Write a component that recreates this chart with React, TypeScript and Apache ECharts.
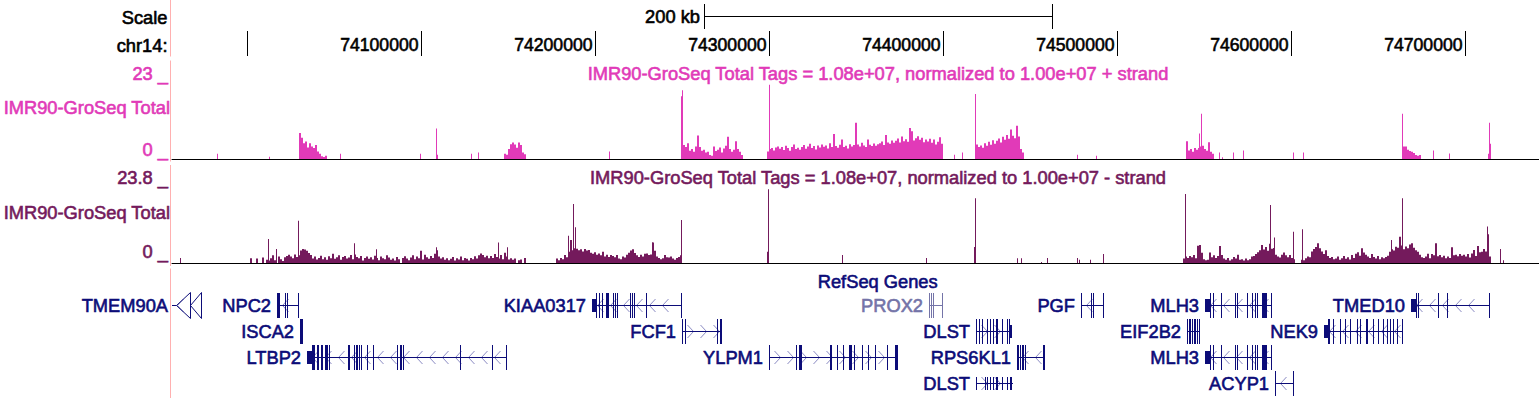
import React, { useEffect, useRef } from "react";
import * as echarts from "echarts";

// ---------------- data (genomic positions in kb on chr14) ----------------
const X_MIN = 73956.55;
const X_MAX = 74742.5;
const BIN_KB = 1.15; // fixedStep wiggle bin

const chromLabel = "chr14:";
const rulerTicks = [74000, 74100, 74200, 74300, 74400, 74500, 74600, 74700];
const scaleBarStart = 74262.85;
const scaleBarKb = 200;
const scaleBarLabel = "200 kb";

const trackShortLabel = "IMR90-GroSeq Total";
const plusTitle = "IMR90-GroSeq Total Tags = 1.08e+07, normalized to 1.00e+07 + strand";
const minusTitle = "IMR90-GroSeq Total Tags = 1.08e+07, normalized to 1.00e+07 - strand";
const plusMax = 23;
const minusMax = 23.8;
const plusMaxLabel = "23 _";
const minusMaxLabel = "23.8 _";
const zeroLabel = "0 _";
const genesTitle = "RefSeq Genes";

// isolated 1-px peaks: [kb, value]
const plusPeaks: [number, number][] = [
  [73982.4, 1.6], [74012.2, 0.7], [74053.2, 1.6], [74099.2, 1.6], [74108.5, 9.2], [74109.1, 1.3],
  [74128.6, 1.6], [74132.3, 2.0], [74207.7, 2.3], [74249.4, 19.0], [74250.0, 20.8], [74300.0, 22.5],
  [74406.2, 1.3], [74410.6, 2.0], [74418.1, 19.7], [74477.1, 1.3], [74488.0, 1.0], [74547.3, 7.7],
  [74548.4, 13.7], [74558.8, 2.0], [74560.3, 0.5], [74566.8, 2.0], [74572.4, 2.6], [74601.0, 2.0],
  [74606.7, 2.0], [74663.8, 13.7], [74681.5, 2.6], [74691.0, 1.7], [74713.3, 1.6], [74714.0, 11.0],
  [74714.6, 4.6],
];

// dense regions: [start kb, values every BIN_KB]
const plusBlocks: [number, number[]][] = [
  [74029.6, [7.9, 6.4, 4.8, 5.3, 3.5, 4.8, 3.8, 3.3, 4.2, 2.3, 1.6, 0.8, 0.6, 1.0]],
  [74147.5, [1.6, 1.3, 3.0, 4.5, 5.0, 4.4, 3.4, 5.0, 4.2, 2.0, 1.4]],
  [74250.4, [4.2, 3.6, 4.8, 2.5, 3.0, 2.2, 3.8, 7.1, 3.6, 2.5, 2.8, 2.0, 2.2, 1.2, 1.0, 3.8, 2.4, 2.8, 3.5, 2.0,
    3.2, 4.0, 6.7, 3.0, 2.2, 2.8, 5.4, 3.0, 2.2, 1.2]],
  [74298.7, [2.3, 3.0, 3.3, 2.6, 3.5,
    3.8, 3.1, 3.6, 2.7, 4.0, 3.3, 2.5, 3.6, 4.4, 3.0, 3.4, 2.8,
    3.6, 4.2, 3.1, 3.8, 4.6, 3.3, 3.9, 2.9, 4.1, 3.5, 4.4, 3.7,
    4.1, 3.2, 4.8, 3.6, 7.6,
    3.9, 3.4, 4.3, 5.9, 3.6, 4.0, 3.2, 4.5, 3.8, 4.2,
    11.0, 4.4, 3.8, 4.9, 4.1, 3.6, 5.9, 4.3, 3.9, 4.7, 4.0, 4.5,
    4.8, 5.3, 4.2, 7.3, 5.0, 4.6, 5.6, 4.9,
    5.5, 6.2, 5.0, 6.8, 5.4, 6.0, 5.2, 9.4,
    8.4, 5.6, 6.3, 6.9, 5.8, 6.4, 5.1, 5.9, 5.3, 6.1,
    4.9, 5.9, 4.4, 5.2, 6.6, 4.6]],
  [74418.85, [4.4, 3.6, 4.1, 3.4, 4.8, 4.0, 5.2, 4.3, 5.7, 4.6, 5.5, 6.2, 5.0, 6.7, 5.8, 7.3, 6.1, 8.9, 7.0, 6.3,
    10.1, 6.8, 3.0, 2.0]],
  [74539.6, [5.4, 2.6, 3.0, 2.2, 3.3, 2.8, 3.3, 3.8, 4.0, 3.0, 2.5, 5.1, 2.2, 1.6]],
  [74664.4, [3.8, 3.8, 2.8, 2.4, 2.2, 1.8, 1.2, 1.0, 1.2]],
];

const minusPeaks: [number, number][] = [
  [73961.2, 1.6], [74011.9, 7.5], [74016.2, 4.4], [74028.8, 13.2], [74061.4, 6.2], [74073.7, 4.3],
  [74108.2, 4.9], [74143.8, 6.4], [74149.0, 4.9], [74184.4, 8.5], [74187.3, 18.5], [74188.5, 11.2],
  [74232.7, 6.4], [74249.4, 13.5], [74298.7, 3.5], [74299.4, 23.1], [74341.6, 2.5], [74389.9, 1.6],
  [74417.9, 5.0], [74418.3, 20.3], [74442.6, 1.5], [74444.7, 1.5], [74456.1, 0.3], [74459.9, 1.6],
  [74476.8, 1.6], [74477.9, 1.0], [74484.6, 1.0], [74492.0, 2.8], [74539.0, 21.6], [74588.1, 18.2],
  [74590.2, 8.0], [74601.0, 9.8], [74606.1, 10.6], [74657.3, 7.2], [74664.0, 20.3], [74712.5, 11.4],
  [74713.4, 9.0], [74719.8, 4.4], [74721.7, 0.9],
];

const minusBlocks: [number, number[]][] = [
  [74001.4, [
    1.5, 0, 0, 1.4, 0, 0, 1.7, 0, 1.0, 0.8,
    1.5, 2.4, 0.9, 0, 2.0, 1.2, 0.6, 1.8, 2.2, 2.6,
    2.0, 1.5, 2.7, 1.9, 2.4, 3.9, 4.4, 4.2, 3.8, 3.1,
    2.5, 1.4, 2.0, 1.1, 1.6, 2.3, 1.2, 1.8, 1.0, 2.1,
    1.5, 2.9, 1.3, 1.8, 2.4, 1.0, 1.9, 2.2, 1.4, 1.7,
    2.5, 1.2, 2.7, 1.9, 1.5, 2.2, 0.8, 1.6, 2.0, 1.3,
    1.8, 1.1, 2.3, 1.6, 0.9, 2.0, 1.5, 1.2, 2.4, 1.7,
    1.0, 1.4, 0.8, 1.9, 1.2, 0, 1.6, 2.1, 1.4, 0.9,
    1.7, 2.4, 1.2, 2.0, 1.5, 3.8, 1.1, 2.6, 1.8, 1.3,
    2.2, 1.6, 2.9, 4.0, 2.0, 1.4, 1.8, 1.0, 1.5, 0.9,
    1.3, 1.9, 0.8, 1.5, 1.1, 2.0, 0.9, 1.6, 1.3, 0.8,
    1.6, 1.2, 2.1, 1.4, 2.4, 3.0, 2.5, 1.8, 2.3, 1.5,
    2.2, 1.6, 2.8, 1.9, 1.4, 2.5, 1.2, 3.2, 2.0, 1.1,
    1.5, 1.0, 1.4, 0, 0.9, 1.1, 0, 1.6]],
  [74177.35, [
    1.4, 0.9, 1.6, 1.2, 2.5, 1.8, 3.5, 7.2, 4.0, 4.6,
    4.5, 4.0, 4.3, 3.6, 4.4, 3.9, 4.1, 3.2,
    2.9, 3.4, 2.6, 3.0, 2.4, 3.5, 2.0, 2.6, 1.9, 2.5,
    2.2, 1.8, 2.5, 1.4, 1.2, 2.0, 1.7, 2.6, 3.2, 3.9,
    4.3, 3.1, 2.4, 1.9, 2.6, 2.0, 2.9, 3.0, 2.5, 2.7,
    6.4, 3.8, 2.0, 1.6, 1.2, 1.5, 2.5, 1.8, 1.7, 2.0, 1.4, 1.0, 1.6, 1.9, 2.4]],
  [74537.9, [
    1.4, 2.0, 1.6, 2.2, 1.8, 2.5, 1.5, 5.4, 5.6,
    3.2, 1.2, 0.9, 1.0, 3.3, 1.8, 2.4, 1.6, 2.2, 5.3,
    2.5, 1.4, 1.0, 1.6, 0.8, 1.2, 1.9, 1.4, 2.6, 1.0,
    1.2, 0.8, 1.4, 0.9, 1.2, 2.0, 2.2, 2.8, 3.4, 4.0,
    5.6, 4.2, 5.0, 3.8, 6.0, 4.5, 4.7, 2.6, 2.0, 1.7,
    2.6, 3.3, 2.4, 1.8, 2.5, 1.6, 1.2, 0, 0, 0,
    1.0, 0.9, 1.5, 2.0, 1.8, 3.6, 4.4, 5.0, 6.2, 4.6,
    3.6, 2.8, 4.0, 2.2, 1.6, 1.9, 1.2, 1.4, 2.0, 1.0,
    1.5, 2.2, 1.3, 1.8, 1.1, 2.5, 1.6, 2.9, 3.4, 2.3,
    4.6, 3.3, 2.6, 2.0, 1.6, 2.8, 1.9, 1.4, 2.2, 1.2,
    1.8, 1.5, 1.9, 2.3, 3.5, 4.3, 3.9, 5.1, 4.8, 8.2,
    5.5, 4.3, 5.2, 4.6, 5.8, 6.2, 4.8, 4.0, 3.5, 2.6,
    1.8, 1.6, 2.0, 2.9, 1.5, 2.8, 2.4, 6.2, 2.1, 2.5,
    1.8, 2.3, 1.5, 2.0, 1.6, 4.9, 2.4, 2.6, 2.1, 2.8,
    2.3, 2.6, 2.0, 2.8, 1.7, 3.0, 4.1, 2.2, 5.3, 3.4,
    3.5, 4.4, 3.6, 4.6, 2.0]],
];

type Gene = {
  name: string; row: number; strand: "+" | "-";
  txStart: number; txEnd: number; cdsStart: number; cdsEnd: number;
  exons: [number, number][];
};

const genes: Gene[] = [
  { name: "TMEM90A", row: 0, strand: "-", txStart: 73950.0, txEnd: 73973.6, cdsStart: 73950.0, cdsEnd: 73973.6,
    exons: [[73967.0, 73967.3], [73973.2, 73973.6]] },
  { name: "NPC2", row: 0, strand: "-", txStart: 74016.75, txEnd: 74029.6, cdsStart: 74016.75, cdsEnd: 74029.6,
    exons: [[74016.75, 74017.9], [74018.2, 74018.6], [74021.5, 74021.9], [74022.8, 74023.2], [74029.1, 74029.6]] },
  { name: "ISCA2", row: 1, strand: "+", txStart: 74030.15, txEnd: 74031.7, cdsStart: 74030.15, cdsEnd: 74031.7,
    exons: [[74030.15, 74031.7]] },
  { name: "LTBP2", row: 2, strand: "-", txStart: 74034.0, txEnd: 74149.0, cdsStart: 74037.2, cdsEnd: 74149.0,
    exons: [[74034.0, 74038.8], [74039.75, 74041.25], [74042.05, 74043.55], [74044.55, 74046.4], [74046.85, 74047.4],
      [74057.9, 74058.9], [74061.2, 74061.6], [74062.2, 74062.6], [74063.1, 74063.5], [74064.25, 74064.65],
      [74065.2, 74065.6], [74068.5, 74068.9], [74072.3, 74072.7], [74086.1, 74086.5], [74087.65, 74088.6],
      [74089.5, 74089.9], [74122.15, 74122.55], [74140.4, 74140.8], [74148.6, 74149.0]] },
  { name: "KIAA0317", row: 0, strand: "-", txStart: 74197.9, txEnd: 74249.6, cdsStart: 74200.35, cdsEnd: 74249.6,
    exons: [[74197.9, 74201.0], [74202.1, 74202.5], [74203.6, 74204.0], [74206.1, 74208.0], [74209.95, 74210.35],
      [74211.3, 74211.7], [74212.6, 74213.0], [74219.9, 74220.3], [74220.9, 74221.3], [74222.4, 74222.8],
      [74229.1, 74229.5], [74249.2, 74249.6]] },
  { name: "FCF1", row: 1, strand: "+", txStart: 74249.8, txEnd: 74272.8, cdsStart: 74249.8, cdsEnd: 74272.8,
    exons: [[74249.8, 74250.2], [74251.5, 74251.9], [74270.1, 74270.5], [74271.65, 74272.8]] },
  { name: "YLPM1", row: 2, strand: "+", txStart: 74300.0, txEnd: 74373.83, cdsStart: 74300.0, cdsEnd: 74373.83,
    exons: [[74300.0, 74300.4], [74315.2, 74315.6], [74317.25, 74318.65], [74334.9, 74335.9], [74338.75, 74339.15],
      [74342.55, 74342.95], [74346.0, 74347.4], [74348.7, 74349.3], [74353.1, 74354.05], [74356.9, 74357.3],
      [74360.8, 74361.2], [74367.5, 74367.9], [74372.3, 74373.83]] },
  { name: "PROX2", row: 0, strand: "-", txStart: 74391.8, txEnd: 74399.5, cdsStart: 74391.8, cdsEnd: 74399.5,
    exons: [[74391.8, 74392.2], [74392.95, 74393.35], [74394.3, 74394.7], [74399.1, 74399.5]] },
  { name: "DLST", row: 1, strand: "+", txStart: 74419.0, txEnd: 74439.4, cdsStart: 74419.0, cdsEnd: 74438.6,
    exons: [[74419.0, 74419.4], [74420.6, 74421.0], [74422.45, 74422.85], [74425.35, 74425.75], [74426.9, 74427.3],
      [74428.45, 74428.85], [74430.15, 74431.65], [74433.6, 74434.0], [74436.85, 74437.25], [74438.0, 74439.4]] },
  { name: "DLST", row: 3, strand: "+", txStart: 74419.0, txEnd: 74440.3, cdsStart: 74440.3, cdsEnd: 74440.3,
    exons: [[74419.0, 74419.4], [74424.0, 74424.4], [74425.35, 74425.75], [74426.9, 74427.3], [74428.45, 74428.85],
      [74430.15, 74431.5], [74433.6, 74434.0], [74436.5, 74437.4], [74438.4, 74439.7]] },
  { name: "RPS6KL1", row: 2, strand: "-", txStart: 74442.6, txEnd: 74458.53, cdsStart: 74442.6, cdsEnd: 74458.53,
    exons: [[74442.6, 74443.6], [74444.15, 74444.55], [74445.1, 74445.5], [74446.05, 74446.45], [74447.0, 74447.4],
      [74457.2, 74457.6], [74458.1, 74458.53]] },
  { name: "PGF", row: 0, strand: "-", txStart: 74479.05, txEnd: 74492.45, cdsStart: 74479.05, cdsEnd: 74492.45,
    exons: [[74479.05, 74479.45], [74485.0, 74485.4], [74485.95, 74486.35], [74491.7, 74492.45]] },
  { name: "EIF2B2", row: 1, strand: "+", txStart: 74540.0, txEnd: 74547.2, cdsStart: 74540.0, cdsEnd: 74547.2,
    exons: [[74540.0, 74540.4], [74541.0, 74541.4], [74542.0, 74542.4], [74542.95, 74543.35], [74543.9, 74544.3],
      [74544.9, 74545.3], [74545.85, 74546.25], [74546.8, 74547.2]] },
  { name: "MLH3", row: 0, strand: "-", txStart: 74550.5, txEnd: 74588.9, cdsStart: 74553.4, cdsEnd: 74588.9,
    exons: [[74550.5, 74554.0], [74555.3, 74555.7], [74559.7, 74560.1], [74567.8, 74568.2], [74569.1, 74569.5],
      [74574.5, 74575.4], [74577.7, 74578.1], [74579.3, 74579.7], [74580.6, 74581.0], [74583.1, 74586.35],
      [74588.5, 74588.9]] },
  { name: "MLH3", row: 2, strand: "-", txStart: 74550.5, txEnd: 74588.9, cdsStart: 74553.4, cdsEnd: 74588.9,
    exons: [[74550.5, 74554.0], [74555.3, 74555.7], [74559.7, 74560.1], [74567.8, 74568.2], [74569.1, 74569.5],
      [74574.5, 74575.4], [74577.7, 74578.1], [74579.3, 74579.7], [74580.6, 74581.0], [74583.1, 74586.35],
      [74588.5, 74588.9]] },
  { name: "ACYP1", row: 3, strand: "-", txStart: 74590.8, txEnd: 74601.3, cdsStart: 74590.8, cdsEnd: 74601.3,
    exons: [[74590.8, 74591.2], [74600.9, 74601.3]] },
  { name: "NEK9", row: 1, strand: "-", txStart: 74618.95, txEnd: 74664.2, cdsStart: 74621.45, cdsEnd: 74664.2,
    exons: [[74618.95, 74622.4], [74624.3, 74624.7], [74628.15, 74628.55], [74631.0, 74631.4], [74633.9, 74634.3],
      [74637.75, 74638.15], [74639.65, 74640.05], [74643.1, 74644.4], [74647.3, 74647.7], [74650.15, 74650.55],
      [74653.05, 74653.45], [74655.0, 74655.4], [74656.9, 74657.3], [74658.8, 74659.2], [74660.75, 74661.15],
      [74663.8, 74664.2]] },
  { name: "TMED10", row: 0, strand: "-", txStart: 74668.8, txEnd: 74714.0, cdsStart: 74671.7, cdsEnd: 74714.0,
    exons: [[74668.8, 74672.2], [74673.15, 74673.55], [74684.65, 74685.05], [74689.5, 74689.9], [74713.6, 74714.0]] },
];
const lightGenes = ["PROX2"];
const arrowGenes = ["TMEM90A"];

// ---------------- styles ----------------
const PLUS = "#e13ab8";
const MINUS = "#741a5c";
const GENE = "#0c0c78";
const GENE_LIGHT = "#7474a8";
const CHEVRON = "#8c8cc4";
const GUIDE = "#ffb0b0";
const FAMILY = "'Liberation Sans', Arial, Helvetica, sans-serif";
const TXT_FONT = `18.3px ${FAMILY}`;
const NUM_FONT = `17.6px ${FAMILY}`;

const ROW_TOP = 293;
const ROW_PITCH = 26;
const FULL_H = 25;
const HALF_H = 13;

function expandBars(blocks: [number, number[]][], peaks: [number, number][]) {
  const out: number[][] = [];
  blocks.forEach(([s, vals]) => vals.forEach((v, i) => out.push([s + i * BIN_KB, v, 2])));
  peaks.forEach(([x, v]) => out.push([x, v, 1]));
  return out;
}

function textEl(text: string, x: number, y: number, align: string, color: string, font = TXT_FONT) {
  return {
    type: "text", x, y, silent: true,
    style: {
      text, fill: color, font, align, verticalAlign: "middle", textAlign: align, textVerticalAlign: "middle",
      stroke: color, lineWidth: 0.6,
    },
  };
}

function barRenderer(color: string) {
  return (params: any, api: any) => {
    const x = api.value(0), v = api.value(1), w = api.value(2);
    if (!(v > 0)) return null;
    const p0 = api.coord([x, 0]);
    const p1 = api.coord([x, v]);
    return {
      type: "rect",
      shape: { x: Math.round(p0[0]), y: p1[1], width: w, height: p0[1] - p1[1] },
      style: { fill: color },
    };
  };
}

function chevron(cx: number, cy: number, dir: number) {
  return {
    type: "polyline",
    shape: { points: [[cx - dir * 3, cy - 6.5], [cx + dir * 3, cy], [cx - dir * 3, cy + 6.5]] },
    style: { stroke: CHEVRON, fill: null, lineWidth: 1 },
  };
}

function renderGene(params: any, api: any) {
  const g = genes[params.dataIndex];
  const color = lightGenes.indexOf(g.name) >= 0 ? GENE_LIGHT : GENE;
  const px = (kb: number) => api.coord([kb, 0])[0];
  const left = Math.round(px(X_MIN));
  const top = ROW_TOP + g.row * ROW_PITCH;
  const cy = top + (FULL_H - 1) / 2 + 0.5;
  const xs = Math.max(left, Math.round(px(g.txStart)));
  const xe = Math.round(px(g.txEnd));
  const dir = g.strand === "-" ? -1 : 1;
  const children: any[] = [];
  if (arrowGenes.indexOf(g.name) >= 0) {
    const bases = g.exons.map((e) => Math.floor(px(e[1])) + 0.5);
    let apex = bases[0] - 14;
    children.push({ type: "line", shape: { x1: xs, y1: cy, x2: apex, y2: cy }, style: { stroke: color, lineWidth: 1 } });
    children.push(chevron(xs + 8.5, cy, dir));
    bases.forEach((b) => {
      children.push({
        type: "polygon",
        shape: { points: [[apex, cy], [b, cy - 13], [b, cy + 13]] },
        style: { fill: "none", stroke: color, lineWidth: 1 },
      });
      apex = b;
    });
  } else {
    for (let cx = xs + 8; cx <= xe - 6; cx += 13) children.push(chevron(cx + 0.5, cy, dir));
    children.push({ type: "line", shape: { x1: xs, y1: cy, x2: xe, y2: cy }, style: { stroke: color, lineWidth: 1 } });
    g.exons.forEach(([a, b]) => {
      const segs: [number, number, number][] = [];
      const cs = Math.max(a, g.cdsStart), ce = Math.min(b, g.cdsEnd);
      if (ce > cs) {
        if (a < cs) segs.push([a, cs, HALF_H]);
        segs.push([cs, ce, FULL_H]);
        if (ce < b) segs.push([ce, b, HALF_H]);
      } else segs.push([a, b, HALF_H]);
      segs.forEach(([p, q, h]) => {
        const x0 = Math.round(px(p));
        const x1 = Math.max(x0 + 1, Math.round(px(q)));
        children.push({
          type: "rect",
          shape: { x: x0, y: Math.round(cy - h / 2), width: x1 - x0, height: h },
          style: { fill: color },
        });
      });
    });
  }
  const lx = g.txStart < X_MIN ? left - 4 : xs - 6;
  children.push(textEl(g.name, lx, cy, "right", color));
  return { type: "group", children };
}

function renderRuler(params: any, api: any) {
  const t = api.value(0);
  const left = api.coord([X_MIN, 0])[0];
  const x = Math.floor(api.coord([t, 0])[0]) + 0.5;
  const children: any[] = [
    { type: "line", shape: { x1: x, y1: 31, x2: x, y2: 56 }, style: { stroke: "#000", lineWidth: 1 } },
  ];
  if (x - 84 > left) children.push(textEl(String(Math.round(t * 1000)), x - 3, 45, "right", "#000", NUM_FONT));
  return { type: "group", children };
}

function renderScaleBar(params: any, api: any) {
  const x0 = Math.floor(api.coord([api.value(0), 0])[0]) + 0.5;
  const x1 = Math.floor(api.coord([api.value(0) + scaleBarKb, 0])[0]) + 0.5;
  return {
    type: "group",
    children: [
      { type: "line", shape: { x1: x0, y1: 4, x2: x0, y2: 29 }, style: { stroke: "#000", lineWidth: 1 } },
      { type: "line", shape: { x1: x1, y1: 4, x2: x1, y2: 29 }, style: { stroke: "#000", lineWidth: 1 } },
      { type: "line", shape: { x1: x0, y1: 16.5, x2: x1, y2: 16.5 }, style: { stroke: "#000", lineWidth: 1 } },
      textEl(scaleBarLabel, x0 - 4.5, 16.3, "right", "#000"),
    ],
  };
}

export default function App() {
  const ref = useRef<HTMLDivElement>(null);
  useEffect(() => {
    const chart = echarts.init(ref.current!, null, { renderer: "svg" });
    const grids = [
      { left: 172, right: 0, top: 0, height: 60 },
      { left: 172, right: 0, top: 83, height: 76 },
      { left: 172, right: 0, top: 187, height: 76 },
      { left: 172, right: 0, top: 270, height: 128 },
    ];
    const xAxes = grids.map((_, i) => ({
      type: "value", gridIndex: i, min: X_MIN, max: X_MAX,
      show: i === 1 || i === 2,
      axisLine: { show: true, onZero: false, lineStyle: { color: "#000", width: 1 } },
      axisTick: { show: false }, axisLabel: { show: false }, splitLine: { show: false },
    }));
    const yMax = [1, plusMax, minusMax, 1];
    const yAxes = grids.map((_, i) => ({
      type: "value", gridIndex: i, min: 0, max: yMax[i], show: false, splitLine: { show: false },
    }));
    const guide = [[0, 56.5], [60.5, 161.5], [165, 266], [268.5, 398]].map(([a, b]) => ({
      type: "line", silent: true, shape: { x1: 170.5, y1: a, x2: 170.5, y2: b }, style: { stroke: GUIDE, lineWidth: 1 },
    }));
    const option: any = {
      animation: false,
      backgroundColor: "#ffffff",
      grid: grids,
      xAxis: xAxes,
      yAxis: yAxes,
      graphic: [
        ...guide,
        textEl("Scale", 167.5, 17.3, "right", "#000"),
        textEl(chromLabel, 167.5, 45, "right", "#000"),
        textEl(plusMaxLabel, 168, 73.3, "right", PLUS),
        textEl(trackShortLabel, 170, 107.5, "right", PLUS),
        textEl(zeroLabel, 168, 149.2, "right", PLUS),
        textEl(plusTitle, 878, 73.3, "center", PLUS),
        textEl(minusMaxLabel, 168, 177.5, "right", MINUS),
        textEl(trackShortLabel, 170, 212.5, "right", MINUS),
        textEl(zeroLabel, 168, 251.7, "right", MINUS),
        textEl(minusTitle, 878, 177.5, "center", MINUS),
        textEl(genesTitle, 877.7, 281.3, "center", GENE),
      ],
      series: [
        { type: "custom", silent: true, xAxisIndex: 0, yAxisIndex: 0, clip: false,
          data: rulerTicks.map((t) => [t, 0]), renderItem: renderRuler },
        { type: "custom", silent: true, xAxisIndex: 0, yAxisIndex: 0, clip: false,
          data: [[scaleBarStart, 0]], renderItem: renderScaleBar },
        { type: "custom", silent: true, xAxisIndex: 1, yAxisIndex: 1, clip: true,
          data: expandBars(plusBlocks, plusPeaks), renderItem: barRenderer(PLUS) },
        { type: "custom", silent: true, xAxisIndex: 2, yAxisIndex: 2, clip: true,
          data: expandBars(minusBlocks, minusPeaks), renderItem: barRenderer(MINUS) },
        { type: "custom", silent: true, xAxisIndex: 3, yAxisIndex: 3, clip: false,
          data: genes.map((g) => [g.txStart, 0]), renderItem: renderGene },
      ],
    };
    chart.setOption(option);
    return () => chart.dispose();
  }, []);
  return (
    <div
      ref={ref}
      style={{ position: "fixed", left: 0, top: 0, width: 1539, height: 398, background: "#fff" }}
    />
  );
}
